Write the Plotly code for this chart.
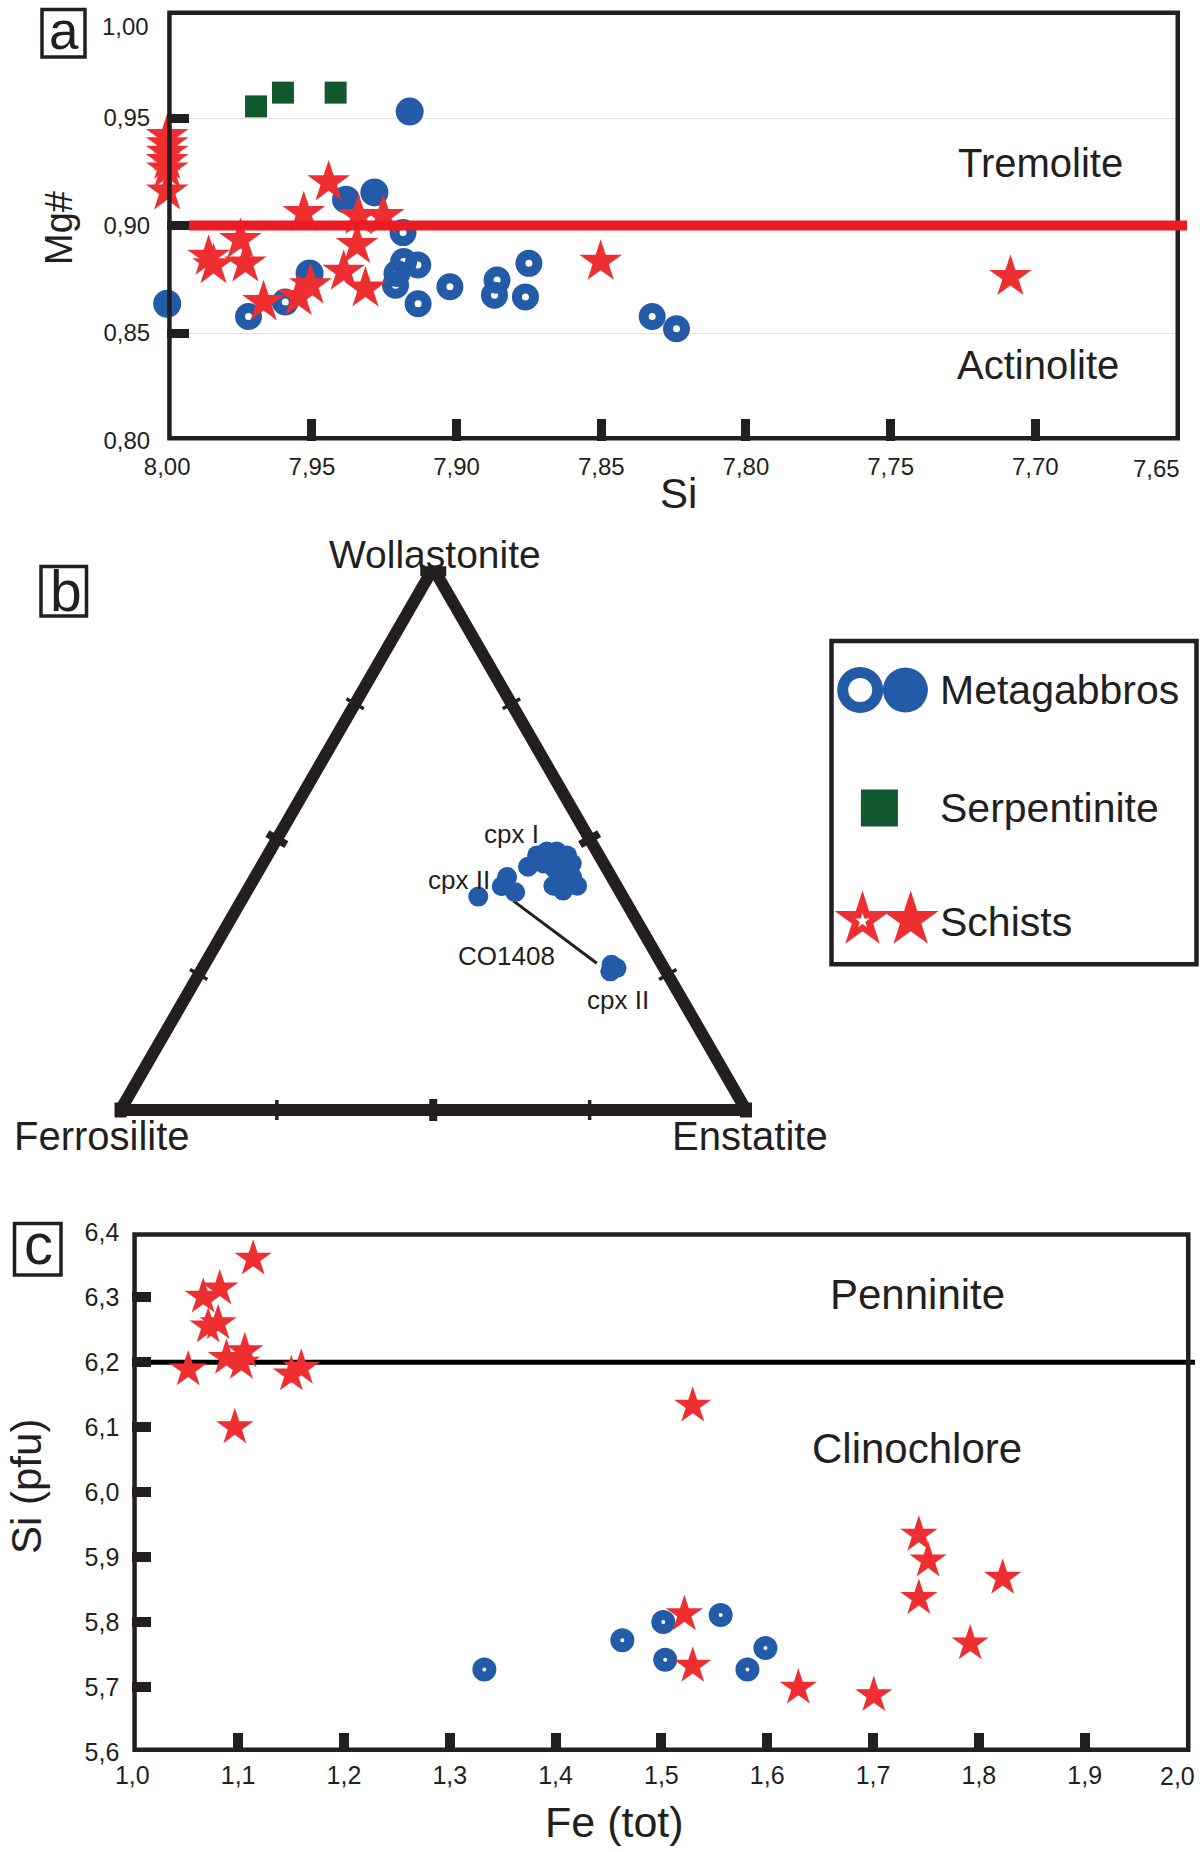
import math
import plotly.graph_objects as go

W, H = 1200, 1852
FONT = "Liberation Sans, Arial, Helvetica, sans-serif"
BLACK = "#231f20"
BLUE = "#235ba8"
RED = "#ee2e31"
RED_LINE = "#ec1c24"
GREEN = "#12582d"

# ---------------- Panel a : amphibole Mg# vs Si ----------------
A_SI_TICKS = [8.00, 7.95, 7.90, 7.85, 7.80, 7.75, 7.70, 7.65]
A_MG_TICKS = [0.80, 0.85, 0.90, 0.95, 1.00]
A_TREMOLITE_LIMIT = 0.90

A_GAB_OPEN_SI = [7.9719, 7.9592, 7.9185, 7.9183, 7.9134, 7.9206, 7.9211, 7.9133,
                 7.9023, 7.8860, 7.8869, 7.8762, 7.8750, 7.8324, 7.8240]
A_GAB_OPEN_MG = [0.8577, 0.8644, 0.8967, 0.8832, 0.8816, 0.8777, 0.8722, 0.8636,
                 0.8715, 0.8746, 0.8676, 0.8668, 0.8824, 0.8577, 0.8520]
A_GAB_FILL_SI = [7.9162, 7.9284, 7.9382, 8.0000, 7.9508]
A_GAB_FILL_MG = [0.9530, 0.9154, 0.9120, 0.8636, 0.8777]
A_SERP_SI = [7.9693, 7.9600, 7.9418]
A_SERP_MG = [0.9554, 0.9618, 0.9618]
A_SCH_SI = [8.00, 8.00, 8.00, 8.00, 8.00, 8.00, 7.9442, 7.9528, 7.9339, 7.9253,
            7.9344, 7.9390, 7.9315, 7.9505, 7.9546, 7.9667, 7.9747, 7.9857,
            7.9840, 7.9730, 7.8502, 7.7086]
A_SCH_MG = [0.9417, 0.9378, 0.9339, 0.9300, 0.9261, 0.9159, 0.9201, 0.9058, 0.9045,
            0.9045, 0.8910, 0.8785, 0.8707, 0.8722, 0.8668, 0.8644, 0.8933, 0.8855,
            0.8816, 0.8824, 0.8832, 0.8761]

# ---------------- Panel b : pyroxene ternary (Wo-Fs-En, %) ----------------
CPX_WO = [39.4, 43.0, 41.3, 40.2, 44.9, 47.0, 47.7, 47.7, 47.0, 45.5, 44.5, 43.0,
          43.0, 41.4, 40.5, 41.4, 45.5, 26.8, 25.6, 26.2]
CPX_FS = [23.1, 16.7, 18.4, 16.8, 12.4, 9.9, 8.0, 6.4, 5.1, 5.1, 8.3, 8.2,
          6.3, 6.3, 9.0, 10.1, 9.6, 8.1, 8.9, 7.6]
CPX_EN = [37.5, 40.3, 40.3, 43.0, 42.7, 43.1, 44.3, 45.9, 47.9, 49.4, 47.2, 48.8,
          50.7, 52.3, 50.5, 48.5, 44.9, 65.1, 65.5, 66.2]
TIE_WO = [38.6, 27.1]
TIE_FS = [17.9, 10.3]
TIE_EN = [43.5, 62.6]
TERNARY_TICKS = [25, 50, 75]

# ---------------- Panel c : chlorite Si vs Fe(tot) ----------------
C_FE_TICKS = [1.0, 1.1, 1.2, 1.3, 1.4, 1.5, 1.6, 1.7, 1.8, 1.9, 2.0]
C_SI_TICKS = [5.6, 5.7, 5.8, 5.9, 6.0, 6.1, 6.2, 6.3, 6.4]
C_PENNINITE_LIMIT = 6.2
C_SCH_FE = [1.1142, 1.0670, 1.0827, 1.0717, 1.0811, 1.0528, 1.0890, 1.1063, 1.1031,
            1.1503, 1.1597, 1.0969, 1.5296, 1.5217, 1.5296, 1.6294, 1.7007, 1.7433,
            1.7520, 1.7433, 1.8225, 1.7918]
C_SCH_SI = [6.3593, 6.3008, 6.3135, 6.2550, 6.2600, 6.1888, 6.2066, 6.2168, 6.1990,
            6.1812, 6.1913, 6.0997, 6.1330, 5.8120, 5.7325, 5.6990, 5.6874, 5.9344,
            5.8947, 5.8370, 5.8680, 5.7670]
C_GAB_FE = [1.3327, 1.4631, 1.5018, 1.5560, 1.5036, 1.5983, 1.5813]
C_GAB_SI = [5.727, 5.772, 5.800, 5.811, 5.742, 5.760, 5.727]

LEGEND_LABELS = ["Metagabbros", "Serpentinite", "Schists"]


def px(x):
    return x / W


def py(y):
    return 1 - y / H


def fmt(v, nd):
    return f"{v:.{nd}f}".replace(".", ",")


fig = go.Figure()
common = dict(mode="markers", showlegend=False, hoverinfo="skip", cliponaxis=False)


def ring(size, lw):
    return dict(symbol="circle-open", size=size, color=BLUE, line=dict(width=lw, color=BLUE))


# panel a traces
fig.add_trace(go.Scatter(x=A_GAB_OPEN_SI, y=A_GAB_OPEN_MG, marker=ring(17, 10), xaxis="x", yaxis="y", **common))
fig.add_trace(go.Scatter(x=A_GAB_FILL_SI, y=A_GAB_FILL_MG, marker=dict(symbol="circle", size=28, color=BLUE),
                         xaxis="x", yaxis="y", **common))
fig.add_trace(go.Scatter(x=A_SERP_SI, y=A_SERP_MG, marker=dict(symbol="square", size=22, color=GREEN),
                         xaxis="x", yaxis="y", **common))
fig.add_trace(go.Scatter(x=A_SCH_SI, y=A_SCH_MG, marker=dict(symbol="star", size=32, color=RED),
                         xaxis="x", yaxis="y", **common))

# panel b traces
fig.add_trace(go.Scatterternary(a=TIE_WO, b=TIE_FS, c=TIE_EN, mode="lines", line=dict(color=BLACK, width=3),
                                subplot="ternary", showlegend=False, hoverinfo="skip"))
fig.add_trace(go.Scatterternary(a=CPX_WO, b=CPX_FS, c=CPX_EN, mode="markers", subplot="ternary",
                                marker=dict(size=20, color=BLUE), showlegend=False, hoverinfo="skip",
                                cliponaxis=False))

# panel c traces
fig.add_trace(go.Scatter(x=C_GAB_FE, y=C_GAB_SI, marker=ring(14, 10), xaxis="x2", yaxis="y2", **common))
fig.add_trace(go.Scatter(x=C_SCH_FE, y=C_SCH_SI, marker=dict(symbol="star", size=28, color=RED),
                         xaxis="x2", yaxis="y2", **common))

# legend glyphs (axis x3/y3 in pixel units of the legend box)
LX0, LX1, LY0, LY1 = 831.5, 1196.5, 641.0, 964.3
fig.add_trace(go.Scatter(x=[860.2], y=[690], marker=ring(35, 11), xaxis="x3", yaxis="y3", **common))
fig.add_trace(go.Scatter(x=[905.4], y=[690], marker=dict(symbol="circle", size=45, color=BLUE),
                         xaxis="x3", yaxis="y3", **common))
fig.add_trace(go.Scatter(x=[879.4], y=[808], marker=dict(symbol="square", size=37, color=GREEN),
                         xaxis="x3", yaxis="y3", **common))
fig.add_trace(go.Scatter(x=[862.5, 910.7], y=[920, 920], marker=dict(symbol="star", size=42, color=RED),
                         xaxis="x3", yaxis="y3", **common))
fig.add_trace(go.Scatter(x=[862.5], y=[921], marker=dict(symbol="star", size=11, color="white"),
                         xaxis="x3", yaxis="y3", **common))

TICK_A = 24
TICK_C = 25
tickfont_a = dict(family=FONT, size=TICK_A, color=BLACK)
tickfont_c = dict(family=FONT, size=TICK_C, color=BLACK)
ax_common = dict(showline=False, zeroline=False, ticks="inside", tickcolor=BLACK, layer="above traces",
                 fixedrange=True, automargin=False, ticklabeloverflow="allow", tickmode="array")

# edge labels that sit at the figure border are drawn as shifted annotations (as in the original)
a_x_text = [fmt(v, 2) for v in A_SI_TICKS[:-1]] + [""]
a_y_text = [fmt(v, 2) for v in A_MG_TICKS[:-1]] + [""]
c_x_text = [fmt(v, 1) for v in C_FE_TICKS[:-1]] + [""]
c_y_text = [fmt(v, 1) for v in C_SI_TICKS]

ternary_axis = dict(showgrid=False, showticklabels=False, linewidth=12, linecolor=BLACK, ticks="",
                    title=dict(text=""))

# ternary triangle geometry (pixels), equilateral, fitted into its domain
TRI_L, TRI_R, TRI_BASE = 120.5, 746.0, 1110.0
TRI_H = (TRI_R - TRI_L) * math.sqrt(3) / 2
TRI_B = (TRI_L, TRI_BASE)
TRI_C = (TRI_R, TRI_BASE)
TRI_A = ((TRI_L + TRI_R) / 2, TRI_BASE - TRI_H)

fig.update_layout(
    width=W, height=H, margin=dict(l=0, r=0, t=0, b=0, pad=0, autoexpand=False),
    paper_bgcolor="white", plot_bgcolor="white", showlegend=False,
    font=dict(family=FONT, color=BLACK),
    xaxis=dict(domain=[px(167.2), px(1180)], range=[A_SI_TICKS[0], A_SI_TICKS[-1]],
               tickvals=A_SI_TICKS, ticktext=a_x_text, ticklen=22, tickwidth=9, showgrid=False,
               tickfont=tickfont_a, ticklabelstandoff=9, anchor="y", **ax_common),
    yaxis=dict(domain=[py(440.5), py(10.5)], range=[A_MG_TICKS[0], A_MG_TICKS[-1]],
               tickvals=A_MG_TICKS, ticktext=a_y_text, ticklen=22, tickwidth=9, showgrid=True,
               gridcolor="#e3e3e3", gridwidth=1, tickfont=tickfont_a, ticklabelstandoff=16,
               anchor="x", **ax_common),
    xaxis2=dict(domain=[px(132.3), px(1190.5)], range=[C_FE_TICKS[0], C_FE_TICKS[-1]],
                tickvals=C_FE_TICKS, ticktext=c_x_text, ticklen=19, tickwidth=10, showgrid=False,
                tickfont=tickfont_c, ticklabelstandoff=6, anchor="y2", **ax_common),
    yaxis2=dict(domain=[py(1752), py(1232.3)], range=[C_SI_TICKS[0], C_SI_TICKS[-1]],
                tickvals=C_SI_TICKS, ticktext=c_y_text, ticklen=19, tickwidth=10, showgrid=False,
                tickfont=tickfont_c, ticklabelstandoff=12, anchor="x2", **ax_common),
    xaxis3=dict(domain=[px(LX0), px(LX1)], range=[LX0, LX1], visible=False, anchor="y3", fixedrange=True,
                automargin=False),
    yaxis3=dict(domain=[py(LY1), py(LY0)], range=[LY1, LY0], visible=False, anchor="x3", fixedrange=True,
                automargin=False),
    ternary=dict(domain=dict(x=[px(TRI_L), px(TRI_R)], y=[py(TRI_BASE), py(TRI_BASE - TRI_H)]), sum=100,
                 bgcolor="rgba(0,0,0,0)", aaxis=ternary_axis, baxis=ternary_axis, caxis=ternary_axis),
)

shapes = [
    # frames
    dict(type="rect", xref="x", yref="y", x0=A_SI_TICKS[0], x1=A_SI_TICKS[-1], y0=A_MG_TICKS[0],
         y1=A_MG_TICKS[-1], line=dict(color=BLACK, width=9), layer="above"),
    dict(type="line", xref="paper", yref="y", x0=px(189), x1=px(1187), y0=A_TREMOLITE_LIMIT,
         y1=A_TREMOLITE_LIMIT, line=dict(color=RED_LINE, width=10), layer="above"),
    dict(type="rect", xref="x2", yref="y2", x0=C_FE_TICKS[0], x1=C_FE_TICKS[-1], y0=C_SI_TICKS[0],
         y1=C_SI_TICKS[-1], line=dict(color=BLACK, width=9), layer="above"),
    dict(type="line", xref="paper", yref="y2", x0=px(132), x1=px(1195), y0=C_PENNINITE_LIMIT,
         y1=C_PENNINITE_LIMIT, line=dict(color="#000000", width=5), layer="below"),
    # legend box
    dict(type="rect", xref="paper", yref="paper", x0=px(LX0), x1=px(LX1), y0=py(LY0), y1=py(LY1),
         line=dict(color=BLACK, width=4.5)),
    # panel letter boxes
    dict(type="rect", xref="paper", yref="paper", x0=px(42), x1=px(85), y0=py(9.5), y1=py(57),
         line=dict(color=BLACK, width=3.5)),
    dict(type="rect", xref="paper", yref="paper", x0=px(41), x1=px(86.5), y0=py(566.5), y1=py(616),
         line=dict(color=BLACK, width=3.5)),
    dict(type="rect", xref="paper", yref="paper", x0=px(14.5), x1=px(61), y0=py(1223.5), y1=py(1275),
         line=dict(color=BLACK, width=3.5)),
]

# ternary edge ticks (crossing the edges, perpendicular), thicker at the midpoint
for P, Q in [(TRI_B, TRI_A), (TRI_A, TRI_C), (TRI_B, TRI_C)]:
    dx, dy = Q[0] - P[0], Q[1] - P[1]
    L = math.hypot(dx, dy)
    nx, ny = -dy / L, dx / L
    for t in TERNARY_TICKS:
        f = t / 100
        cx, cy = P[0] + f * dx, P[1] + f * dy
        mid = t == 50
        half = 11 if mid else 10
        shapes.append(dict(type="line", xref="paper", yref="paper",
                           x0=px(cx - nx * half), y0=py(cy - ny * half),
                           x1=px(cx + nx * half), y1=py(cy + ny * half),
                           line=dict(color=BLACK, width=8 if mid else 3.5), layer="above"))
# vertex caps
for (cx, cy, w, h) in [(TRI_A[0], TRI_A[1] + 3, 26, 10), (TRI_B[0], TRI_B[1], 12, 15), (TRI_C[0], TRI_C[1], 12, 15)]:
    shapes.append(dict(type="rect", xref="paper", yref="paper", x0=px(cx - w / 2), x1=px(cx + w / 2),
                       y0=py(cy + h / 2), y1=py(cy - h / 2), fillcolor=BLACK, line=dict(width=0),
                       layer="above"))


def ann(text, x, y, size, xanchor="center", angle=0):
    return dict(text=text, x=px(x), y=py(y), xref="paper", yref="paper", xanchor=xanchor, yanchor="middle",
                showarrow=False, textangle=angle, borderpad=0,
                font=dict(family=FONT, size=size, color=BLACK))


annotations = [
    ann("a", 63.5, 30.5, 53), ann("b", 65.5, 591, 57), ann("c", 38.3, 1243.5, 58),
    ann("Mg#", 59, 228, 38, angle=-90), ann("Si", 678.5, 493, 42),
    ann("Tremolite", 1040, 163, 40), ann("Actinolite", 1038, 365, 40),
    ann("Wollastonite", 434.5, 555, 39), ann("Ferrosilite", 102, 1136, 40), ann("Enstatite", 750, 1136, 40),
    ann("cpx I", 511.7, 834, 26), ann("cpx II", 459, 880, 26), ann("CO1408", 506.7, 956, 26),
    ann("cpx II", 617.7, 1000, 26),
    ann(LEGEND_LABELS[0], 938.7, 690, 41, xanchor="left"),
    ann(LEGEND_LABELS[1], 938.7, 808, 41, xanchor="left"),
    ann(LEGEND_LABELS[2], 938.7, 922, 41, xanchor="left"),
    ann("Penninite", 917.6, 1294, 42), ann("Clinochlore", 917, 1448, 42),
    ann("Si (pfu)", 26, 1487, 42, angle=-90), ann("Fe (tot)", 614, 1822, 43),
    # border tick labels, nudged inward like the original
    ann(fmt(A_MG_TICKS[-1], 2), 150, 26, TICK_A, xanchor="right"),
    ann(fmt(A_SI_TICKS[-1], 2), 1181, 468, TICK_A, xanchor="right"),
    ann(fmt(C_FE_TICKS[-1], 1), 1196, 1776, TICK_C, xanchor="right"),
]

fig.update_layout(shapes=shapes, annotations=annotations)
fig.write_html("out.html", config={"displayModeBar": False},
               post_script="document.body.style.margin='0px';document.body.style.overflow='hidden';")
